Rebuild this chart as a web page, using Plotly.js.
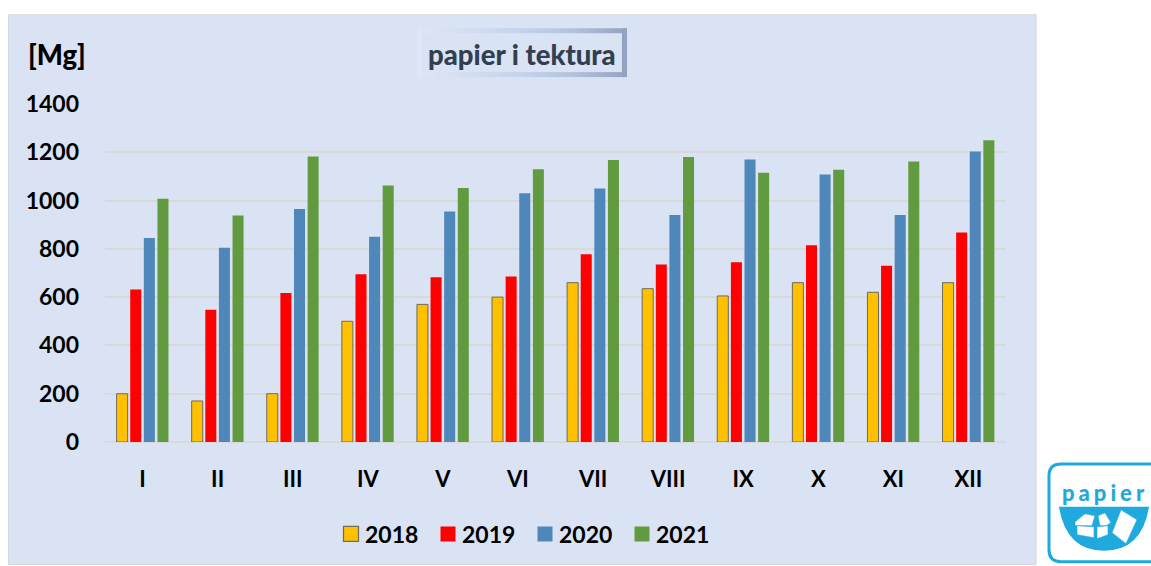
<!DOCTYPE html>
<html><head><meta charset="utf-8">
<script src="https://cdn.plot.ly/plotly-3.0.1.min.js"></script>
<style>
html,body{margin:0;padding:0;background:#fff;overflow:hidden}
text[data-unformatted="papier"]{letter-spacing:4px}
.legendpoints path{transform:translate(26px,0) scale(1.25)}
</style></head>
<body><div id="chart" style="width:1151px;height:566px"></div>
<script>
const months = ["I","II","III","IV","V","VI","VII","VIII","IX","X","XI","XII"];
const v2018 = [200,170,200,500,570,600,660,635,605,660,620,660];
const v2019 = [632,548,617,695,682,685,778,735,745,815,730,868];
const v2020 = [845,805,965,850,955,1030,1050,940,1170,1108,940,1203];
const v2021 = [1008,938,1183,1062,1052,1130,1168,1180,1115,1128,1162,1250];
const yTicks = [0,200,400,600,800,1000,1200,1400];
const FONT = "Lato, 'Open Sans', sans-serif";
const W=1151,H=566,L=105,R=1006,T=104,B=443;
const px = x => (x-L)/(R-L), py = y => (B-y)/(B-T);
const path = pts => "M"+pts.map(p=>px(p[0]).toFixed(5)+","+py(p[1]).toFixed(5)).join(" L")+" Z";
const rawPath = d => d.replace(/(-?[\d.]+) (-?[\d.]+)/g,(m,a,b)=>px(+a).toFixed(5)+","+py(+b).toFixed(5));
const rect=(x0,y0,x1,y1,fill,line,lw,layer)=>({type:"rect",xref:"paper",yref:"paper",x0:px(x0),x1:px(x1),y0:py(y1),y1:py(y0),fillcolor:fill,line:{color:line||"rgba(0,0,0,0)",width:lw||0},layer:layer||"below"});
const seg=(x0,y0,x1,y1,c,w)=>({type:"line",xref:"paper",yref:"paper",x0:px(x0),x1:px(x1),y0:py(y0),y1:py(y1),line:{color:c,width:w},layer:"below"});
const shapes=[rect(8.5,14.5,1036,566,"#dae3f3","#d5d8de",1)];
// title frame: gradient-like border built from short segments
const stops=[[0,[222,231,244]],[0.5,[196,211,236]],[0.75,[178,194,221]],[1,[146,163,191]]];
const frameColor=t=>{let i=0;while(i<stops.length-2&&t>stops[i+1][0])i++;
  const [a,ca]=stops[i],[b,cb]=stops[i+1],k=(t-a)/(b-a);
  return "rgb("+ca.map((v,j)=>Math.round(v+(cb[j]-v)*k)).join(",")+")";};
const fx0=417,fx1=627,nSeg=42;
for(let i=0;i<nSeg;i++){const a=fx0+(fx1-fx0)*i/nSeg,b=fx0+(fx1-fx0)*(i+1)/nSeg,c=frameColor((i+0.5)/nSeg);
  shapes.push(seg(a,30.5,b,30.5,c,5));shapes.push(seg(a,74.5,b,74.5,c,5));}
shapes.push(seg(419.5,28,419.5,77,"#dfe7f5",5));
shapes.push(seg(624.5,28,624.5,77,"#92a3bf",5));
// logo
shapes.push({type:"path",xref:"paper",yref:"paper",layer:"above",fillcolor:"#ffffff",line:{color:"#1fa9dc",width:3},
  path:rawPath("M1061 465 L1160 465 L1160 563 L1061 563 Q1049 563 1049 551 L1049 477 Q1049 465 1061 465 Z")});
shapes.push({type:"path",xref:"paper",yref:"paper",layer:"above",fillcolor:"#1fa9dc",line:{width:0},
  path:rawPath("M1059 508 L1149 508 Q1142 552 1104 552 Q1066 552 1059 508 Z")});
const white=(pts)=>({type:"path",xref:"paper",yref:"paper",layer:"above",fillcolor:"#ffffff",line:{color:"#1fa9dc",width:0.6},path:path(pts)});
shapes.push(white([[1075,523],[1085,515],[1095,517],[1092,527],[1075,527]]));
shapes.push(white([[1098,517],[1105,514],[1111,524],[1106,527],[1100,527]]));
shapes.push(white([[1077,527],[1094,528],[1094,539],[1077,536]]));
shapes.push(white([[1097,528],[1108,527],[1108,536],[1097,540]]));
shapes.push(white([[1121,511],[1137,521],[1126,545],[1112,534]]));
const colors=["#ffc000","#ff0000","#4f87ba","#629b3f"];
const mk=(name,y,i)=>({type:"bar",name,x:months,y,marker:{color:colors[i],line:i===0?{color:"#6f6a5c",width:1}:{width:0}}});
const data=[mk("2018",v2018,0),mk("2019",v2019,1),mk("2020",v2020,2),mk("2021",v2021,3)];
const ann=(t,x,y,size,color,xanchor)=>({text:t,xref:"paper",yref:"paper",x:px(x),y:py(y),xanchor:xanchor||"center",yanchor:"middle",showarrow:false,font:{family:FONT,size,color,weight:900}});
const layout={width:W,height:H,paper_bgcolor:"#ffffff",plot_bgcolor:"rgba(0,0,0,0)",
  margin:{l:L,r:W-R,t:T,b:H-B,pad:0},barmode:"group",bargap:0.275,bargroupgap:0.19,showlegend:true,
  font:{family:FONT,size:23,color:"#000"},
  xaxis:{type:"category",categoryorder:"array",categoryarray:months,showgrid:false,zeroline:false,showline:false,ticks:"",ticklabelstandoff:22,tickfont:{family:FONT,size:22,color:"#000",weight:700}},
  yaxis:{range:[0,1400],tickvals:yTicks,ticktext:yTicks.map(String),showgrid:true,gridcolor:"#d9d9d9",gridwidth:2,zeroline:true,zerolinecolor:"#d9d9d9",zerolinewidth:2,showline:false,ticks:"",ticklabelstandoff:25,tickfont:{family:FONT,size:23,color:"#000",weight:700}},
  legend:{orientation:"h",x:px(519),xanchor:"center",y:py(534),yanchor:"middle",bgcolor:"rgba(0,0,0,0)",font:{family:FONT,size:23,color:"#000",weight:700},itemwidth:30,entrywidth:52,entrywidthmode:"pixels",traceorder:"normal"},
  shapes,
  annotations:[ann("[Mg]",57,54,27.5,"#000"),ann("papier i tektura",522,54,27.5,"#323f4f"),ann("papier",1105,494,22,"#1fa9dc")]
};
Plotly.newPlot("chart",data,layout,{displayModeBar:false,responsive:false});
</script></body></html>
